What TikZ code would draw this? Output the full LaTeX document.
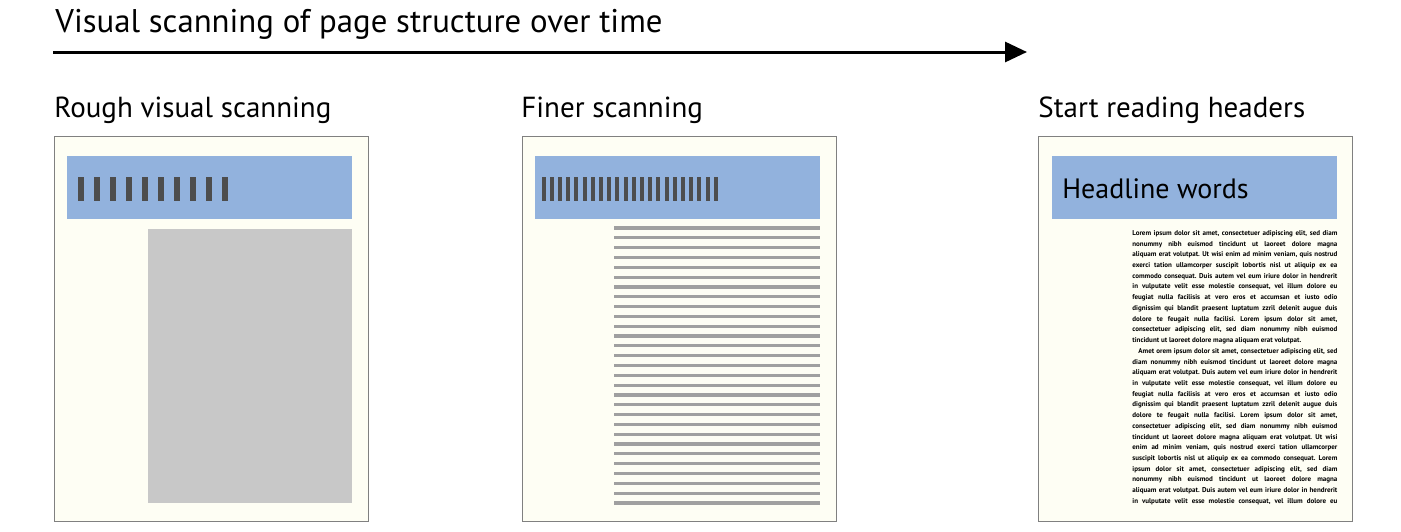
\documentclass[tikz,border=0pt]{standalone}
\usepackage{xcolor}
\usepackage{fontspec}
\setmainfont{PT Sans}
\usepackage{tikz}
\usetikzlibrary{arrows.meta,positioning,calc}
\definecolor{pagebg}{RGB}{254,254,244}
\definecolor{pageedge}{RGB}{128,128,128}
\definecolor{headblue}{RGB}{146,178,221}
\definecolor{bardark}{RGB}{77,77,77}
\definecolor{blockgray}{RGB}{200,200,200}
\definecolor{rulegray}{RGB}{160,160,160}
\newcommand{\jline}[1]{\makebox[102.5pt][s]{#1}}
\newcommand{\eline}[1]{\makebox[102.5pt][l]{#1}}

\begin{document}
\begin{tikzpicture}[x=0.5pt, y=-0.5pt,
    page/.style={draw=pageedge, line width=0.5pt, fill=pagebg,
                 minimum width=157pt, minimum height=192.5pt, inner sep=0pt},
    header/.style={fill=headblue, minimum width=142.5pt,
                   minimum height=31.5pt, inner sep=0pt},
    caption/.style={anchor=base west, inner sep=0pt,
                    font=\fontsize{14.5}{17}\selectfont}]
  \useasboundingbox (0,0) rectangle (1401,531);
  % time axis
  \node[anchor=base west, inner sep=0pt, font=\fontsize{16.4}{19}\selectfont]
    (title) at (55,32) {Visual scanning of page structure over time};
  \coordinate (axisstart) at (53,52);
  \coordinate (axisend)   at (1027,52);
  \draw[-{Triangle[length=11pt,width=10pt]}, line width=1.5pt]
    (axisstart) -- (axisend);
  % stage captions
  \node[caption] (cap1) at (54,117)   {Rough visual scanning};
  \node[caption] (cap2) at (521,117)  {Finer scanning};
  \node[caption] (cap3) at (1038,117) {Start reading headers};
  % pages
  \node[page] (page1) at (211,328.5)    {};
  \node[page] (page2) at (679,328.5)    {};
  \node[page] (page3) at (1195.5,328.5) {};
  \node[header] (head1) at (209.5,187.5)  {};
  \node[header] (head2) at (677.5,187.5)  {};
  \node[header] (head3) at (1194.5,187.5) {};
  % rough: coarse bars, one text block
  \foreach \i in {0,...,9}
    \fill[bardark] ({78+16*\i},177) rectangle +(5.5,24);
  \fill[blockgray] (148,229) rectangle (352,503);
  % finer: dense bars, text lines
  \foreach \i in {0,...,21}
    \fill[bardark] ({541.5+8.2*\i},177) rectangle +(4,24);
  \foreach \i in {0,...,28}
    \draw[rulegray, line width=1.6pt]
      (614,{228+9.82*\i}) -- (820,{228+9.82*\i});
  % reading: headline and body text
  \node[anchor=base west, inner sep=0pt, font=\fontsize{14}{16}\selectfont]
    (headline) at (1062,198) {Headline words};
  \node[anchor=north west, inner sep=0pt, align=left,
        font=\bfseries\frenchspacing\fontsize{3.5}{5.36}\selectfont]
        (body) at (1132,230) {%
    \jline{Lorem ipsum dolor sit amet, consectetuer adipiscing elit, sed diam}\\
    \jline{nonummy nibh euismod tincidunt ut laoreet dolore magna}\\
    \jline{aliquam erat volutpat. Ut wisi enim ad minim veniam, quis nostrud}\\
    \jline{exerci tation ullamcorper suscipit lobortis nisl ut aliquip ex ea}\\
    \jline{commodo consequat. Duis autem vel eum iriure dolor in hendrerit}\\
    \jline{in vulputate velit esse molestie consequat, vel illum dolore eu}\\
    \jline{feugiat nulla facilisis at vero eros et accumsan et iusto odio}\\
    \jline{dignissim qui blandit praesent luptatum zzril delenit augue duis}\\
    \jline{dolore te feugait nulla facilisi. Lorem ipsum dolor sit amet,}\\
    \jline{consectetuer adipiscing elit, sed diam nonummy nibh euismod}\\
    \eline{tincidunt ut laoreet dolore magna aliquam erat volutpat.}\\
    \jline{\hspace*{3pt}Amet orem ipsum dolor sit amet, consectetuer adipiscing elit, sed}\\
    \jline{diam nonummy nibh euismod tincidunt ut laoreet dolore magna}\\
    \jline{aliquam erat volutpat. Duis autem vel eum iriure dolor in hendrerit}\\
    \jline{in vulputate velit esse molestie consequat, vel illum dolore eu}\\
    \jline{feugiat nulla facilisis at vero eros et accumsan et iusto odio}\\
    \jline{dignissim qui blandit praesent luptatum zzril delenit augue duis}\\
    \jline{dolore te feugait nulla facilisi. Lorem ipsum dolor sit amet,}\\
    \jline{consectetuer adipiscing elit, sed diam nonummy nibh euismod}\\
    \jline{tincidunt ut laoreet dolore magna aliquam erat volutpat. Ut wisi}\\
    \jline{enim ad minim veniam, quis nostrud exerci tation ullamcorper}\\
    \jline{suscipit lobortis nisl ut aliquip ex ea commodo consequat. Lorem}\\
    \jline{ipsum dolor sit amet, consectetuer adipiscing elit, sed diam}\\
    \jline{nonummy nibh euismod tincidunt ut laoreet dolore magna}\\
    \jline{aliquam erat volutpat. Duis autem vel eum iriure dolor in hendrerit}\\
    \jline{in vulputate velit esse molestie consequat, vel illum dolore eu}};
\end{tikzpicture}
\end{document}
